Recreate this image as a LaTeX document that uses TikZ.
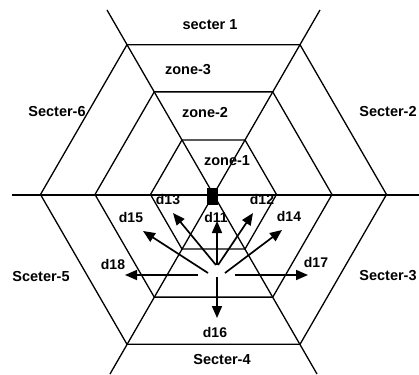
\documentclass[tikz,border=0pt]{standalone}
\usepackage{fontspec}
\setmainfont{Liberation Sans}
\usetikzlibrary{arrows.meta,calc}
\begin{document}
\begin{tikzpicture}[x=1pt,y=-1pt,
  lbl/.style={font=\bfseries\fontsize{14.5}{16}\selectfont, inner sep=0pt},
  dlbl/.style={font=\bfseries\fontsize{14}{16}\selectfont, inner sep=0pt},
  geo/.style={line width=1.3pt},
  dirarrow/.style={line width=1.7pt, -{Triangle[length=12pt,width=10pt]}}]
\useasboundingbox (0,0) rectangle (419,374);
\coordinate (C) at (213.5,194.5);
% hexagons
\foreach \R/\nm in {63/inner,118.5/middle,173/outer}{
  \draw[geo] ($(C)+(0:\R)$) -- ($(C)+(60:\R)$) -- ($(C)+(120:\R)$) -- ($(C)+(180:\R)$)
     -- ($(C)+(240:\R)$) -- ($(C)+(300:\R)$) -- cycle;
}
% sector lines
\coordinate (s1a) at (107,10); \coordinate (s1b) at (317,374);
\coordinate (s2a) at (320,10); \coordinate (s2b) at (110,374);
\coordinate (h1) at (12,195); \coordinate (h2) at (419,195);
\draw[geo] (s1a) -- (s1b);
\draw[geo] (s2a) -- (s2b);
\draw[geo] (h1) -- (h2);
% base station
\node[fill=black, minimum width=11pt, minimum height=17pt, inner sep=0pt] (bs) at (212.5,196) {};
% arrows
\coordinate (t11) at (217,265); \coordinate (p11) at (217,221);
\coordinate (t12) at (218,265); \coordinate (p12) at (253,213);
\coordinate (t13) at (216,265); \coordinate (p13) at (173,213);
\coordinate (t14) at (225,273); \coordinate (p14) at (282,230);
\coordinate (t15) at (208,273); \coordinate (p15) at (143,231);
\coordinate (t17) at (235,275); \coordinate (p17) at (308,275);
\coordinate (t18) at (198,275); \coordinate (p18) at (125,275);
\coordinate (t16) at (217,277); \coordinate (p16) at (217,318);
\foreach \i in {11,12,13,14,15,16,17,18}{
  \draw[dirarrow] (t\i) -- (p\i);
}
% labels
\node[lbl] (L1) at (210,25) {secter 1};
\node[lbl] (Z3) at (188,70) {zone-3};
\node[lbl] (Z2) at (205,113) {zone-2};
\node[lbl] (Z1) at (227,161) {zone-1};
\node[lbl] (L6) at (57,112) {Secter-6};
\node[lbl] (L2) at (388,112) {Secter-2};
\node[lbl] (L5) at (41,277) {Sceter-5};
\node[lbl] (L3) at (388,276) {Secter-3};
\node[lbl] (L4) at (222,360) {Secter-4};
\node[dlbl] (d16) at (215,332) {d16};
\node[dlbl] (d18) at (113,264) {d18};
\node[dlbl] (d17) at (316,262) {d17};
\node[dlbl] (d15) at (131,217) {d15};
\node[dlbl] (d14) at (289,216) {d14};
\node[dlbl] (d11) at (216,217) {d11};
\node[dlbl] (d13) at (168,200) {d13};
\node[dlbl] (d12) at (262,199) {d12};
\end{tikzpicture}
\end{document}
